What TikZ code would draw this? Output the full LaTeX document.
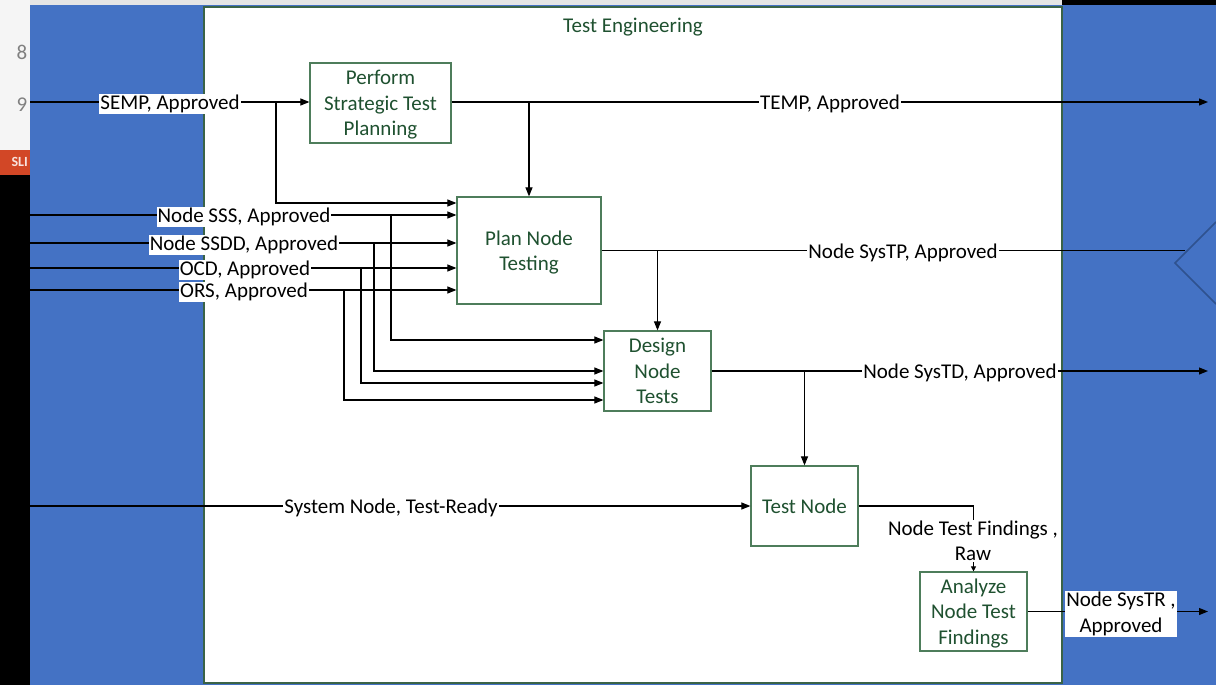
\documentclass[tikz,border=0pt]{standalone}
\usepackage{fontspec}
\setmainfont{Carlito}
\usetikzlibrary{arrows,arrows.meta,calc}

\definecolor{slideblue}{HTML}{4472C4}
\definecolor{slidered}{HTML}{D24726}
\definecolor{boxtext}{HTML}{1F5130}
\definecolor{boxline}{HTML}{4E7D5B}
\definecolor{frameline}{HTML}{3A6347}
\definecolor{triline}{HTML}{2F528F}
\newcommand{\boxfont}{\fontsize{21}{25.5}\selectfont}

\tikzset{
  wire/.style={line width=1.1pt},
  flow/.style={line width=1.1pt, -{Triangle[length=9pt,width=7pt]}},
  smallflow/.style={line width=1.1pt, -{Triangle[length=5pt,width=5pt]}},
  proc/.style={draw=boxline, line width=1.2pt, fill=white, align=center,
    text=boxtext, font=\boxfont, inner sep=0pt, text depth=0pt},
  lbl/.style={fill=white, inner xsep=1pt, inner ysep=1pt, align=center,
    font=\boxfont, yshift=-2pt},
}

\begin{document}
\begin{tikzpicture}[x=1pt,y=-1pt]
\useasboundingbox (0,0) rectangle (1216,685);

% slide background
\fill[slideblue] (30,5) rectangle (1216,685);
\fill[gray!8] (0,0) rectangle (30,150);
\fill[slidered] (0,150) rectangle (30,175);
\fill[black] (0,175) rectangle (30,685);
\fill[gray!20] (30,0) rectangle (1062,5);
\fill[black] (1062,0) rectangle (1216,5);
\begin{scope}
\clip (0,0) rectangle (30,685);
\node[text=gray, font=\fontsize{21}{24}\selectfont, anchor=west] (num8) at (13,52) {8};
\node[text=gray, font=\fontsize{21}{24}\selectfont, anchor=west] (num9) at (13,105) {9};
\node[text=white!85!slidered, font=\bfseries\fontsize{14}{16}\selectfont, anchor=west] (sli) at (8,162) {SLI};
\end{scope}
\draw[triline, line width=1.5pt] (1216,222) -- (1175,263) -- (1216,304);

% frame
\draw[draw=frameline, fill=white, line width=1.2pt] (204,7) rectangle (1062,683);
\node[text=boxtext, font=\boxfont] (title) at (633,27) {Test Engineering};

% activities
\node[proc, minimum width=141pt, minimum height=80pt] (perform) at (380.5,103) {Perform\\Strategic Test\\Planning};
\node[proc, minimum width=144pt, minimum height=107pt] (plan) at (529,250.5) {Plan Node\\Testing};
\node[proc, minimum width=107pt, minimum height=80pt] (design) at (657.5,371) {Design\\Node\\Tests};
\node[proc, minimum width=107pt, minimum height=80pt] (testnode) at (804.5,506) {Test Node};
\node[proc, minimum width=107pt, minimum height=79pt] (analyze) at (973.5,611.5) {Analyze\\Node Test\\Findings};

% inputs and outputs
\coordinate[] (semp) at (30,102);
\coordinate[] (sss) at (30,215);
\coordinate[] (ssdd) at (30,243);
\coordinate[] (ocd) at (30,268);
\coordinate[] (ors) at (30,290);
\coordinate[] (sysnode) at (30,506);
\coordinate[] (temp) at (1208,102);
\coordinate[] (systp) at (1185,250.5);
\coordinate[] (systd) at (1208,371);
\coordinate[] (systr) at (1208,611.5);

% branch points
\coordinate[] (semp b) at (276,102);
\coordinate[] (sss b) at (391,215);
\coordinate[] (ssdd b) at (374,243);
\coordinate[] (ocd b) at (361,268);
\coordinate[] (ors b) at (344,290);
\coordinate[] (plan p0) at ($(plan.west)+(0,-47.5)$);
\coordinate[] (design p1) at ($(design.west)+(0,-31)$);
\coordinate[] (design p3) at ($(design.west)+(0,12)$);
\coordinate[] (design p4) at ($(design.west)+(0,29)$);

\draw[flow] (semp) -- (semp -| perform.west);
\draw[flow] (semp b) |- (plan p0);
\draw[flow] (sss) -- (sss -| plan.west);
\draw[flow] (ssdd) -- (ssdd -| plan.west);
\draw[flow] (ocd) -- (ocd -| plan.west);
\draw[flow] (ors) -- (ors -| plan.west);
\draw[flow] (sss b) |- (design p1);
\draw[flow] (ssdd b) |- (design.west);
\draw[flow] (ocd b) |- (design p3);
\draw[flow] (ors b) |- (design p4);

\draw[flow] (perform.east |- semp) -- (temp);
\draw[flow] (plan.north |- semp) -- (plan.north);
\draw[wire] (plan.east) -- (systp);
\draw[flow] (design.north |- plan.east) -- (design.north);
\draw[flow] (design.east) -- (systd);
\draw[flow] (testnode.north |- design.east) -- (testnode.north);
\draw[flow] (sysnode) -- (testnode.west);
\draw[smallflow] (testnode.east) -| (analyze.north);
\draw[flow] (analyze.east) -- (systr);

% labels
\node[lbl] (l semp) at (170,102) {SEMP, Approved};
\node[lbl] (l temp) at (830,102) {TEMP, Approved};
\node[lbl] (l sss) at (244,215) {Node SSS, Approved};
\node[lbl] (l ssdd) at (244,243) {Node SSDD, Approved};
\node[lbl] (l ocd) at (245,268) {OCD, Approved};
\node[lbl] (l ors) at (244,290) {ORS, Approved};
\node[lbl] (l systp) at (903,250.5) {Node SysTP, Approved};
\node[lbl] (l systd) at (960,371) {Node SysTD, Approved};
\node[lbl] (l sysnode) at (391,506) {System Node, Test-Ready};
\node[lbl] (l findings) at (973,539) {Node Test Findings ,\\Raw};
\node[lbl] (l systr) at (1121,612) {Node SysTR ,\\Approved};

\end{tikzpicture}
\end{document}
